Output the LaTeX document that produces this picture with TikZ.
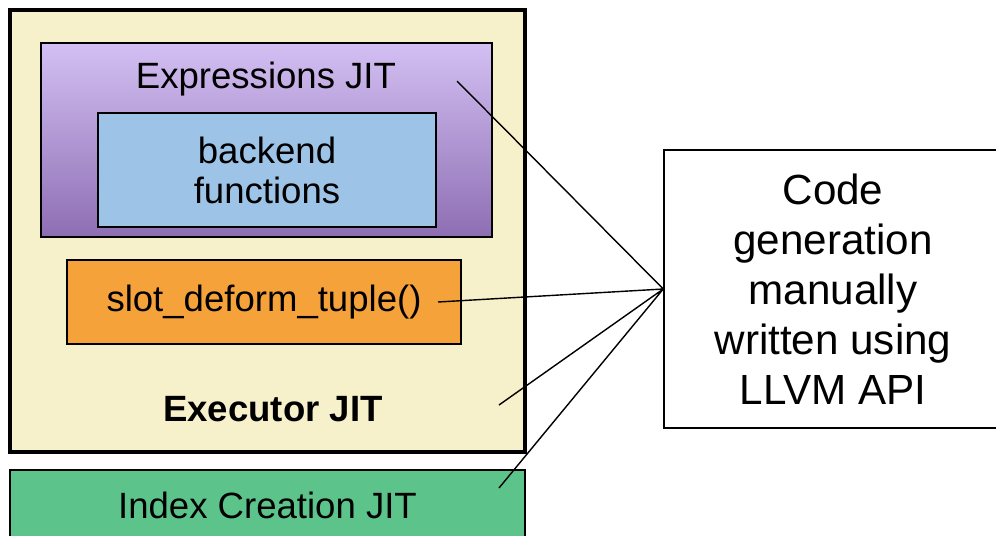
\documentclass[tikz,border=0pt]{standalone}
\usepackage{fontspec}
\setmainfont{Liberation Sans}
\usetikzlibrary{positioning}

\definecolor{execfill}{HTML}{F6F0CB}
\definecolor{exprtop}{HTML}{D3C0F3}
\definecolor{exprbot}{HTML}{8E6EB3}
\definecolor{backfill}{HTML}{9DC3E6}
\definecolor{slotfill}{HTML}{F6A23A}
\definecolor{indexfill}{HTML}{5CC48A}

\begin{document}
\begin{tikzpicture}[x=0.025cm, y=-0.025cm,
	box/.style = {draw, rectangle, inner sep=0pt, align=center, line width=1pt,
		font=\fontsize{26}{28.5}\selectfont},
	link/.style = {line width=1pt}]
	\useasboundingbox (0,0) rectangle (996,535);
	
	% executor and its parts
	\node [box, line width=2.8pt, fill=execfill, minimum width=12.875cm, minimum height=11.05cm]
	(exec) at (267.5,231) {};
	\node [font=\fontsize{26}{28.5}\selectfont\bfseries] (execlabel) at (273,409) {Executor JIT};
	
	\node [box, top color=exprtop, bottom color=exprbot, minimum width=11.275cm, minimum height=4.85cm]
	(expr) at (266.5,140) {};
	\node [font=\fontsize{26}{28.5}\selectfont] (exprlabel) at (266,79) {Expressions JIT};
	
	\node [box, fill=backfill, minimum width=8.45cm, minimum height=2.85cm]
	(backend) at (267,170) {backend\\functions};
	
	\node [box, fill=slotfill, minimum width=9.85cm, minimum height=2.1cm]
	(slot) at (264,302) {\raisebox{-2pt}{slot\_deform\_tuple()}};
	
	\node [box, fill=indexfill, minimum width=12.875cm, minimum height=1.75cm]
	(index) at (267.5,505) {\raisebox{-2pt}{Index Creation JIT}};
	
	% code generation box, cut at the right border
	\node [box, font=\fontsize{30}{35.5}\selectfont, minimum width=8.45cm, minimum height=6.95cm]
	(codegen) at (833,289) {Code\\generation\\manually\\written using\\LLVM API};
	
	% free ends of the connectors
	\coordinate (toexpr) at (457,81);
	\coordinate (toslot) at (438,302);
	\coordinate (toexec) at (499,405);
	\coordinate (toindex) at (499,488);
	
	\draw [link]
	(codegen.west) -- (toexpr)
	(codegen.west) -- (toslot)
	(codegen.west) -- (toexec)
	(codegen.west) -- (toindex);
\end{tikzpicture}
\end{document}
